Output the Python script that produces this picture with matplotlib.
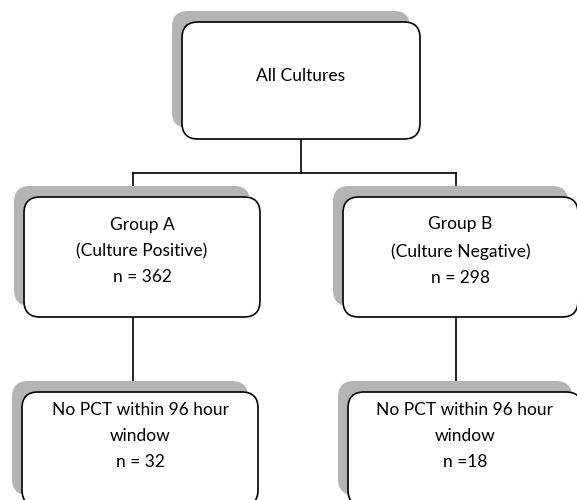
import matplotlib.pyplot as plt
from matplotlib.patches import FancyBboxPatch

# box texts
top_label = "All Cultures"
group_labels = ["Group A\n(Culture Positive)\nn = 362",
                "Group B\n(Culture Negative)\nn = 298"]
excl_labels = ["No PCT within 96 hour\nwindow\nn = 32",
               "No PCT within 96 hour\nwindow\nn =18"]

plt.rcParams['font.family'] = ['Lato', 'DejaVu Sans']

fig = plt.figure(figsize=(5.77, 5.0), dpi=100)
ax = fig.add_axes([0, 0, 1, 1])
ax.set_xlim(0, 577)
ax.set_ylim(500, 0)
ax.axis('off')

SHADOW = '#b4b4b4'
R = 16


def box(x0, y0, x1, y1, text, text_y=None):
    """caixa com sombra cinza deslocada para cima/esquerda"""
    sh = FancyBboxPatch((x0 - 10, y0 - 11), x1 - x0, y1 - y0,
                        boxstyle="round,pad=0,rounding_size=%d" % R,
                        fc=SHADOW, ec='none', zorder=1)
    ax.add_patch(sh)
    b = FancyBboxPatch((x0, y0), x1 - x0, y1 - y0,
                       boxstyle="round,pad=0,rounding_size=%d" % R,
                       fc='white', ec='black', lw=1.2, zorder=2)
    ax.add_patch(b)
    ty = text_y if text_y is not None else (y0 + y1) / 2
    ax.text((x0 + x1) / 2, ty, text, ha='center', va='center',
            fontsize=12.5, linespacing=1.78, zorder=3)


# linhas de ligação
lk = dict(color='black', lw=1.2, zorder=0)
ax.plot([301, 301], [139, 173], **lk)
ax.plot([133, 456], [173, 173], **lk)
ax.plot([133, 133], [173, 197], **lk)
ax.plot([456, 456], [173, 197], **lk)
ax.plot([133, 133], [317, 392], **lk)
ax.plot([456, 456], [317, 392], **lk)

box(182, 22, 420, 139, top_label, text_y=76)
box(24, 197, 260, 317, group_labels[0], text_y=251)
box(343, 197, 578, 317, group_labels[1], text_y=251)
box(22, 392, 258, 506, excl_labels[0], text_y=436)
box(348, 392, 582, 506, excl_labels[1], text_y=436)

fig.savefig('out.png', dpi=100)
